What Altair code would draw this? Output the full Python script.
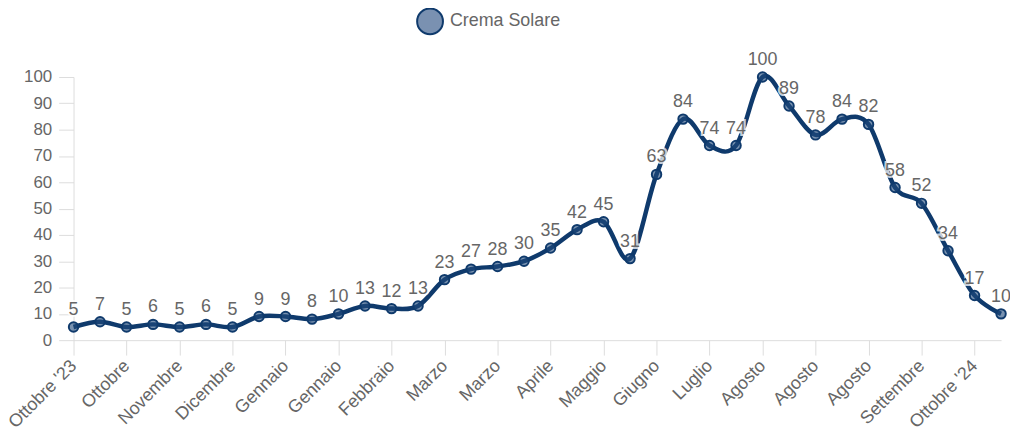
import json
import altair as alt
import pandas as pd

series_name = "Crema Solare"
values = [5, 7, 5, 6, 5, 6, 5, 9, 9, 8, 10, 13, 12, 13, 23, 27, 28, 30, 35, 42,
          45, 31, 63, 84, 74, 74, 100, 89, 78, 84, 82, 58, 52, 34, 17, 10]
tick_labels = ["Ottobre '23", "Ottobre", "Novembre", "Dicembre", "Gennaio", "Gennaio",
               "Febbraio", "Marzo", "Marzo", "Aprile", "Maggio", "Giugno", "Luglio",
               "Agosto", "Agosto", "Agosto", "Settembre", "Ottobre '24"]

df = pd.DataFrame({
    "idx": list(range(len(values))),
    "value": values,
    "series": [series_name] * len(values),
})

LINE = "#0f3a6c"
FONT = "Liberation Sans"
GRAY = "#666666"
AXISC = "#dddddd"

label_expr = json.dumps(tick_labels) + "[round(datum.value/2)]"

x = alt.X("idx:Q",
          scale=alt.Scale(domain=[0, len(values) - 1], nice=False, zero=False),
          axis=alt.Axis(values=list(range(0, len(values), 2)), labelExpr=label_expr,
                        labelAngle=-45, labelAlign="right", labelBaseline="middle",
                        labelFontSize=18, labelColor=GRAY, labelFont=FONT,
                        tickSize=15, tickColor=AXISC, domainColor=AXISC,
                        grid=False, title=None, labelPadding=8, labelOverlap=False,
                        labelBound=False))
y = alt.Y("value:Q",
          scale=alt.Scale(domain=[0, 100], nice=False),
          axis=alt.Axis(values=list(range(0, 101, 10)), labelFontSize=17,
                        labelColor=GRAY, labelFont=FONT, tickSize=15,
                        tickColor=AXISC, domainColor=AXISC, grid=False,
                        title=None, labelPadding=7))

base = alt.Chart(df).encode(x=x, y=y)

line = base.mark_line(interpolate="cardinal", strokeWidth=4.5).encode(
    color=alt.Color("series:N", scale=alt.Scale(domain=[series_name], range=[LINE]),
                    legend=alt.Legend(title=None, orient="none", legendX=345, legendY=-70,
                                      symbolType="circle", symbolSize=676,
                                      symbolFillColor="#7a91b1",
                                      symbolStrokeColor="#2c5283", symbolStrokeWidth=2,
                                      labelFontSize=18, labelColor=GRAY, labelFont=FONT,
                                      labelOffset=6))
)

points = base.mark_point(filled=True, size=90, stroke=LINE, strokeWidth=2,
                         fill="#1f4a7c", fillOpacity=0.6)

halo = base.mark_text(dy=-17, fontSize=18, font=FONT, stroke="white",
                      strokeWidth=4, strokeOpacity=0.75, color="white").encode(
    text="value:Q")
labels = base.mark_text(dy=-17, fontSize=18, font=FONT, color=GRAY).encode(
    text="value:Q")

chart = alt.layer(line, points, halo, labels).properties(
    width=934, height=265,
    autosize=alt.AutoSizeParams(type="none"),
    padding={"left": 66, "top": 68, "right": 9, "bottom": 95},
).configure_view(stroke=None)

chart.save("out.html", embed_options={"renderer": "svg", "actions": False})
